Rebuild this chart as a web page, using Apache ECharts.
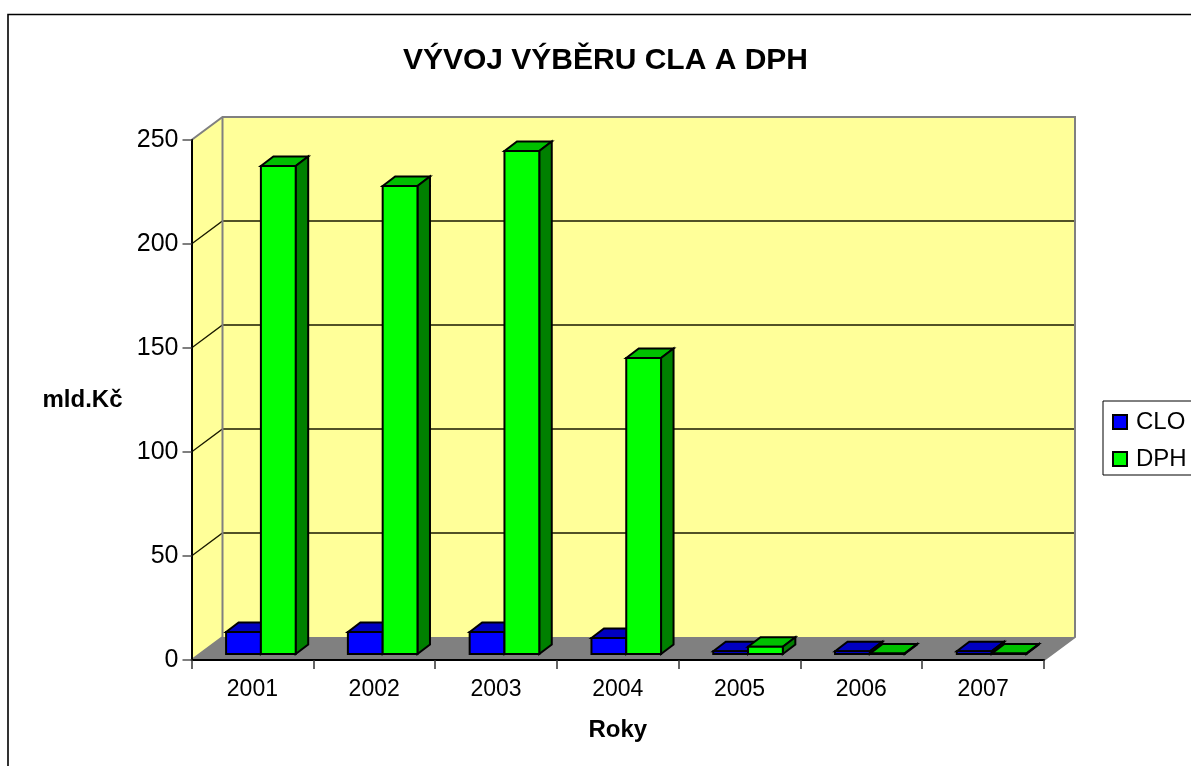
<!DOCTYPE html>
<html>
<head>
<meta charset="utf-8">
<title>VÝVOJ VÝBĚRU CLA A DPH</title>
<style>
  html, body { margin: 0; padding: 0; background: #fff; overflow: hidden; }
  #chart { width: 1191px; height: 766px; }
</style>
<script src="https://cdn.jsdelivr.net/npm/echarts@6/dist/echarts.min.js"></script>
</head>
<body>
<div id="chart"></div>
<script>
const years = ['2001', '2002', '2003', '2004', '2005', '2006', '2007']
const clo = [10.6, 10.6, 10.6, 7.7, 1.3, 1.3, 1.3]
const dph = [234.6, 225, 241.8, 142.3, 3.5, 0.2, 0.2]
const yTicks = [0, 50, 100, 150, 200, 250]

const font = '"Liberation Sans", Arial, sans-serif'
// oblique offset of the back wall, and of a bar's own depth
const wallDx = 31
const wallDy = -23
const barDx = 12.5
const barDy = -9.5
const barFrontDx = 8.5
const barFrontDy = -6

const chart = echarts.init(document.getElementById('chart'))

function poly (points, fill, stroke, width) {
  return {
    type: 'polygon',
    shape: { points },
    style: { fill, stroke: stroke || 'none', lineWidth: width || 0 }
  }
}

function line (points, stroke, width) {
  return {
    type: 'polyline',
    shape: { points },
    style: { fill: 'none', stroke, lineWidth: width }
  }
}

// walls, floor and gridlines, placed from the axis scales
function renderWalls (params, api) {
  const left = api.coord([0, 0])[0] - api.size([1, 0])[0] / 2
  const right = api.coord([years.length - 1, 0])[0] + api.size([1, 0])[0] / 2
  const y0 = api.coord([0, yTicks[0]])[1]
  const yTop = api.coord([0, yTicks[yTicks.length - 1]])[1]
  const children = [
    poly([[left, y0], [left + wallDx, y0 + wallDy], [left + wallDx, yTop + wallDy], [left, yTop]], '#ffff99'),
    poly([[left + wallDx, y0 + wallDy], [right + wallDx, y0 + wallDy], [right + wallDx, yTop + wallDy], [left + wallDx, yTop + wallDy]], '#ffff99'),
    poly([[left, y0], [left + wallDx, y0 + wallDy], [right + wallDx, y0 + wallDy], [right, y0]], '#808080')
  ]
  yTicks.slice(1, -1).forEach(t => {
    const y = api.coord([0, t])[1]
    children.push(line([[left, y], [left + wallDx, y + wallDy], [right + wallDx, y + wallDy]], '#1a1a00', 1.3))
  })
  children.push(line([[left, yTop], [left + wallDx, yTop + wallDy], [right + wallDx, yTop + wallDy], [right + wallDx, y0 + wallDy], [right, y0]], '#808080', 2))
  children.push(line([[left + wallDx, yTop + wallDy], [left + wallDx, y0 + wallDy], [left, y0]], '#808080', 2))
  return { type: 'group', children }
}

function barRenderer (slot, front, top, side) {
  return function (params, api) {
    const cat = api.value(0)
    const band = api.size([1, 0])[0]
    const w = band / 3.5
    const x0 = api.coord([cat, 0])[0] + barFrontDx + (slot - 1) * w
    const x1 = x0 + w
    const yb = api.coord([cat, 0])[1] + barFrontDy
    const yt = api.coord([cat, api.value(1)])[1] + barFrontDy
    const s = '#000'
    return {
      type: 'group',
      children: [
        poly([[x0, yt], [x0 + barDx, yt + barDy], [x1 + barDx, yt + barDy], [x1, yt]], top, s, 2),
        poly([[x1, yb], [x1 + barDx, yb + barDy], [x1 + barDx, yt + barDy], [x1, yt]], side, s, 2),
        poly([[x0, yb], [x1, yb], [x1, yt], [x0, yt]], front, s, 2)
      ]
    }
  }
}

chart.setOption({
  animation: false,
  backgroundColor: '#fff',
  title: {
    text: 'VÝVOJ VÝBĚRU CLA A DPH',
    left: 600.5,
    top: 41,
    textAlign: 'center',
    textStyle: { fontFamily: font, fontSize: 30, fontWeight: 'bold', color: '#000' }
  },
  legend: {
    orient: 'vertical',
    left: 1103,
    top: 401,
    padding: [9, 40, 4, 9],
    itemGap: 13,
    itemWidth: 14,
    itemHeight: 14,
    borderColor: '#000',
    borderWidth: 1,
    backgroundColor: '#fff',
    textStyle: { fontFamily: font, fontSize: 24, color: '#000', padding: [0, 0, 0, 4] },
    data: [
      { name: 'CLO', icon: 'rect', itemStyle: { color: '#0000ff', borderColor: '#000', borderWidth: 2 } },
      { name: 'DPH', icon: 'rect', itemStyle: { color: '#00ff00', borderColor: '#000', borderWidth: 2 } }
    ]
  },
  grid: { left: 191.5, top: 140, width: 852.5, height: 520 },
  xAxis: {
    type: 'category',
    data: years,
    z: 10,
    name: 'Roky',
    nameLocation: 'middle',
    nameGap: 58,
    nameTextStyle: { fontFamily: font, fontSize: 24, fontWeight: 'bold', color: '#000' },
    axisLine: { lineStyle: { color: '#000', width: 2 } },
    axisTick: { show: true, length: 9, alignWithLabel: false, lineStyle: { color: '#333', width: 1.5 } },
    axisLabel: { fontFamily: font, fontSize: 23, color: '#000', margin: 18 }
  },
  yAxis: {
    type: 'value',
    min: yTicks[0],
    max: yTicks[yTicks.length - 1],
    interval: 50,
    z: 10,
    name: 'mld.Kč',
    nameLocation: 'middle',
    nameRotate: 0,
    nameGap: 69,
    nameTextStyle: { fontFamily: font, fontSize: 24, fontWeight: 'bold', color: '#000', padding: [6, 0, 0, 0] },
    splitLine: { show: false },
    axisLine: { show: true, lineStyle: { color: '#000', width: 2 } },
    axisTick: { show: true, length: 9, lineStyle: { color: '#555', width: 1.5 } },
    axisLabel: { fontFamily: font, fontSize: 25, color: '#000', margin: 13 }
  },
  graphic: [
    {
      type: 'rect',
      silent: true,
      z: -10,
      shape: { x: 8, y: 14.5, width: 1300, height: 900 },
      style: { fill: 'none', stroke: '#000', lineWidth: 1.6 }
    }
  ],
  series: [
    {
      type: 'custom',
      name: 'walls',
      silent: true,
      clip: false,
      renderItem: renderWalls,
      data: [[0, 0]],
      encode: { x: 0, y: 1 },
      z: 1
    },
    {
      type: 'custom',
      name: 'CLO',
      clip: false,
      renderItem: barRenderer(0, '#0000ff', '#0000c0', '#000080'),
      data: years.map((y, i) => [i, clo[i]]),
      encode: { x: 0, y: 1 },
      z: 2
    },
    {
      type: 'custom',
      name: 'DPH',
      clip: false,
      renderItem: barRenderer(1, '#00ff00', '#00c000', '#008000'),
      data: years.map((y, i) => [i, dph[i]]),
      encode: { x: 0, y: 1 },
      z: 3
    }
  ]
})
</script>
</body>
</html>
